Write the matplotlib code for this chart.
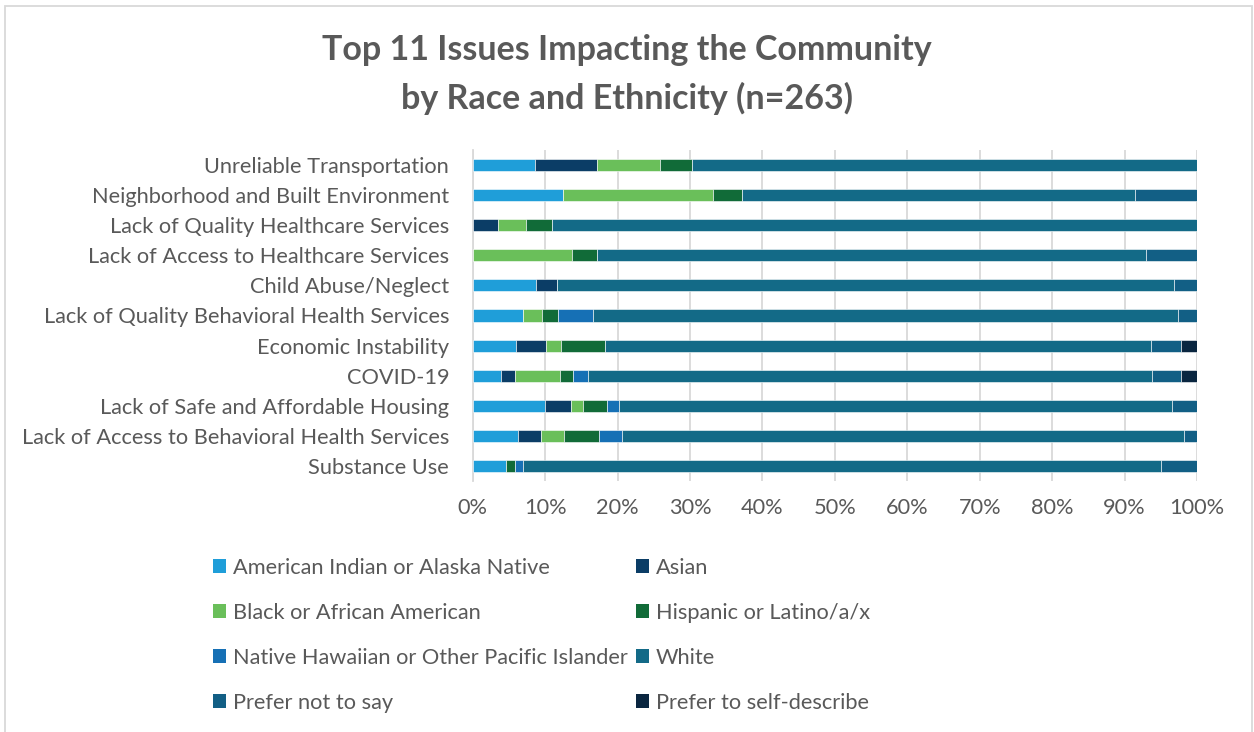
import matplotlib
matplotlib.use("Agg")
import matplotlib.pyplot as plt
from matplotlib.patches import Rectangle, Patch
import numpy as np

plt.rcParams['font.family'] = ['Lato', 'DejaVu Sans']

categories = [
    "Unreliable Transportation",
    "Neighborhood and Built Environment",
    "Lack of Quality Healthcare Services",
    "Lack of Access to Healthcare Services",
    "Child Abuse/Neglect",
    "Lack of Quality Behavioral Health Services",
    "Economic Instability",
    "COVID-19",
    "Lack of Safe and Affordable Housing",
    "Lack of Access to Behavioral Health Services",
    "Substance Use",
]

series_names = [
    "American Indian or Alaska Native",
    "Asian",
    "Black or African American",
    "Hispanic or Latino/a/x",
    "Native Hawaiian or Other Pacific Islander",
    "White",
    "Prefer not to say",
    "Prefer to self-describe",
]

aian     = [8.6, 12.4, 0.0, 0.0, 8.7, 7.0, 6.0, 3.9, 10.0, 6.3, 4.6]
asian    = [8.6, 0.0, 3.5, 0.0, 2.9, 0.0, 4.1, 2.0, 3.5, 3.1, 0.0]
black    = [8.7, 20.8, 3.8, 13.7, 0.0, 2.5, 2.1, 6.1, 1.7, 3.2, 0.0]
hispanic = [4.4, 4.0, 3.7, 3.4, 0.0, 2.3, 6.1, 1.9, 3.3, 4.8, 1.2]
nhpi     = [0.0, 0.0, 0.0, 0.0, 0.0, 4.8, 0.0, 2.0, 1.7, 3.2, 1.2]
white    = [69.7, 54.2, 89.0, 75.9, 85.3, 80.8, 75.4, 77.9, 76.3, 77.6, 88.0]
prefer_not = [0.0, 8.6, 0.0, 7.0, 3.1, 2.6, 4.1, 4.0, 3.5, 1.8, 5.0]
self_desc  = [0.0, 0.0, 0.0, 0.0, 0.0, 0.0, 2.2, 2.2, 0.0, 0.0, 0.0]

colors = ["#1F9ED9", "#0B3D66", "#6ABF5A", "#116B38",
          "#1670B5", "#136A87", "#125F85", "#0A2640"]

data = [aian, asian, black, hispanic, nhpi, white, prefer_not, self_desc]

fig = plt.figure(figsize=(12.54, 7.32), dpi=100)
ax = fig.add_axes([0.377, 0.343, 0.5775, 0.452])

y = np.arange(len(categories))
left = np.zeros(len(categories))
for vals, c, name in zip(data, colors, series_names):
    v = np.array(vals)
    ax.barh(y, v, left=left, height=0.4, color=c, edgecolor='white',
            linewidth=0.4, label=name, zorder=3)
    left += v

FS = 15.7
ax.set_xlim(0, 100)
ax.set_ylim(len(categories) - 0.5, -0.5)
ax.set_xticks(np.arange(0, 101, 10))
ax.set_xticklabels([f"{t}%" for t in range(0, 101, 10)])
ax.set_yticks(y)
ax.set_yticklabels(categories)
ax.tick_params(axis='both', length=0, labelsize=FS, colors='#595959')
ax.tick_params(axis='x', pad=12)
ax.tick_params(axis='y', pad=17)
ax.grid(axis='x', color='#D9D9D9', linewidth=1.3, zorder=0)
for s in ['top', 'right', 'bottom']:
    ax.spines[s].set_visible(False)
ax.spines['left'].set_color('#D9D9D9')
ax.spines['left'].set_linewidth(1.3)

fig.text(0.5, 0.932, "Top 11 Issues Impacting the Community",
         ha='center', va='center', fontsize=24.5, fontweight='bold', color='#595959')
fig.text(0.5, 0.866, "by Race and Ethnicity (n=263)",
         ha='center', va='center', fontsize=24.5, fontweight='bold', color='#595959')

# legend ordering: row-wise display with ncol=2 (column-major fill)
order = [0, 2, 4, 6, 1, 3, 5, 7]
handles = [Patch(facecolor=colors[i], edgecolor='none') for i in order]
labels = [series_names[i] for i in order]
leg = fig.legend(handles, labels, ncol=2, loc='upper left',
                 bbox_to_anchor=(0.163, 0.25), frameon=False,
                 fontsize=FS, labelcolor='#595959',
                 handlelength=0.6, handleheight=0.6, handletextpad=0.3,
                 columnspacing=0.4, labelspacing=1.15, borderaxespad=0)

# outer chart border
fig.patches.append(Rectangle((5/1254, -0.01), 1247/1254, 1 - 6/732 + 0.01,
                             transform=fig.transFigure, fill=False,
                             edgecolor='#D9D9D9', linewidth=1.3))

fig.savefig("out.png", dpi=100, facecolor='white')
